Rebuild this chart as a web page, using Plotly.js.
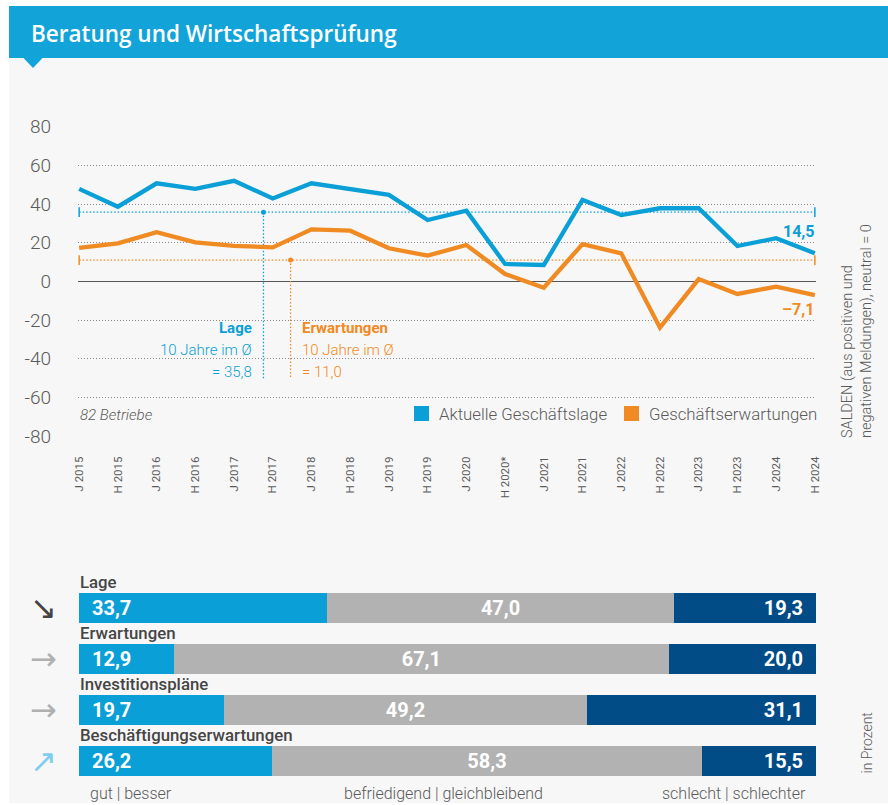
<!DOCTYPE html>
<html><head><meta charset="utf-8">
<script src="https://cdn.plot.ly/plotly-3.0.1.min.js"></script>
<style>html,body{margin:0;padding:0;background:#fff;}#chart{width:888px;height:805px;}</style>
</head><body><div id="chart"></div>
<script>
// ---- data ----
const periods = ['J 2015','H 2015','J 2016','H 2016','J 2017','H 2017','J 2018','H 2018','J 2019','H 2019','J 2020','H 2020*','J 2021','H 2021','J 2022','H 2022','J 2023','H 2023','J 2024','H 2024'];
const lage = [47.8,38.6,50.7,47.8,52.0,42.9,50.7,47.6,44.7,31.7,36.5,9.0,8.5,42.1,34.3,37.8,37.8,18.3,22.3,14.5];
const erwartungen = [17.3,19.7,25.4,20.2,18.4,17.6,26.9,26.2,17.1,13.3,18.8,3.8,-3.3,19.3,14.5,-23.9,1.2,-6.5,-2.7,-7.1];
const avgLage = 35.8;
const avgErw = 11.0;
const seriesNames = ['Aktuelle Geschäftslage','Geschäftserwartungen'];
const yTicks = [80,60,40,20,0,-20,-40,-60,-80];

const barCategories = ['Lage','Erwartungen','Investitionspläne','Beschäftigungserwartungen'];
const gutBesser = [33.7,12.9,19.7,26.2];
const befriedigend = [47.0,67.1,49.2,58.3];
const schlecht = [19.3,20.0,31.1,15.5];
const trendArrows = ['↘','→','→','↗'];
const barScale = ['gut | besser','befriedigend | gleichbleibend','schlecht | schlechter'];

// ---- helpers ----
const W = 888, H = 805;
const px = x => x / W;
const py = y => 1 - y / H;
const fmt = v => v.toFixed(1).replace('.', ',').replace('-', '–');

const BLUE = '#0a9fd6', ORANGE = '#f08a22', DARK = '#014b86', GREY = '#b2b2b2', TXT = '#5a5a5a';
const FONT = 'Roboto, "Open Sans", sans-serif';
const idx = periods.map((_, i) => i);
const last = periods.length - 1;

const traces = [];
// average lines
traces.push({x:[0,last], y:[avgLage,avgLage], mode:'lines+markers', line:{color:BLUE,width:1.4,dash:'1.5px,2px'},
  marker:{symbol:'line-ns',size:7,line:{color:BLUE,width:1.5}}, hoverinfo:'skip', showlegend:false, cliponaxis:false});
traces.push({x:[0,last], y:[avgErw,avgErw], mode:'lines+markers', line:{color:ORANGE,width:1.4,dash:'1.5px,2px'},
  marker:{symbol:'line-ns',size:7,line:{color:ORANGE,width:1.5}}, hoverinfo:'skip', showlegend:false, cliponaxis:false});
// callout connectors
traces.push({x:[4.76,4.76], y:[avgLage,-50.5], mode:'lines', line:{color:BLUE,width:1.3,dash:'1.5px,2px'}, hoverinfo:'skip', showlegend:false});
traces.push({x:[4.76], y:[avgLage], mode:'markers', marker:{color:BLUE,size:5}, hoverinfo:'skip', showlegend:false});
traces.push({x:[5.46,5.46], y:[avgErw,-50.5], mode:'lines', line:{color:ORANGE,width:1.3,dash:'1.5px,2px'}, hoverinfo:'skip', showlegend:false});
traces.push({x:[5.46], y:[avgErw], mode:'markers', marker:{color:ORANGE,size:5}, hoverinfo:'skip', showlegend:false});
// main lines
traces.push({x:idx, y:lage, name:seriesNames[0], mode:'lines', line:{color:BLUE,width:4.3}, showlegend:false, cliponaxis:false});
traces.push({x:idx, y:erwartungen, name:seriesNames[1], mode:'lines', line:{color:ORANGE,width:4.3}, showlegend:false, cliponaxis:false});

// stacked bars
const yb = barCategories.map((_, i) => i);
const barCommon = {type:'bar', orientation:'h', xaxis:'x2', yaxis:'y2', textposition:'inside',
  textfont:{family:FONT, size:20, color:'#fff', weight:700}, constraintext:'none', hoverinfo:'skip', showlegend:false};
traces.push(Object.assign({}, barCommon, {x:gutBesser, y:yb, marker:{color:BLUE}, insidetextanchor:'start', texttemplate:'  %{x:.1f}'}));
traces.push(Object.assign({}, barCommon, {x:befriedigend, y:yb, marker:{color:GREY}, insidetextanchor:'middle', texttemplate:'%{x:.1f}'}));
traces.push(Object.assign({}, barCommon, {x:schlecht, y:yb, marker:{color:DARK}, insidetextanchor:'end', texttemplate:'%{x:.1f}  '}));

const shapes = [
  {type:'rect', xref:'paper', yref:'paper', x0:px(9), x1:px(888), y0:py(803), y1:py(6), fillcolor:'#f7f7f7', line:{width:0}, layer:'below'},
  {type:'rect', xref:'paper', yref:'paper', x0:px(9), x1:px(888), y0:py(58), y1:py(6), fillcolor:'#12a3d8', line:{width:0}, layer:'below'},
  {type:'path', xref:'paper', yref:'paper', path:`M ${px(23)} ${py(57.5)} L ${px(43)} ${py(57.5)} L ${px(33)} ${py(68)} Z`, fillcolor:'#12a3d8', line:{width:0}, layer:'below'},
  // legend squares
  {type:'rect', xref:'paper', yref:'paper', x0:px(414), x1:px(429), y0:py(421), y1:py(406), fillcolor:BLUE, line:{width:0}},
  {type:'rect', xref:'paper', yref:'paper', x0:px(624), x1:px(639), y0:py(421), y1:py(406), fillcolor:ORANGE, line:{width:0}}
];

const ann = [];
const A = (o) => ann.push(Object.assign({xref:'paper', yref:'paper', showarrow:false, font:{family:FONT, size:15, color:TXT}}, o));
A({x:px(29), y:py(33), xanchor:'left', yanchor:'middle', text:'Beratung und Wirtschaftsprüfung', font:{family:'"Open Sans", sans-serif', size:22.5, color:'#fff', weight:600}});
// callout texts
A({x:px(254), y:py(328), xanchor:'right', yanchor:'middle', text:'<b>Lage</b>', font:{family:FONT, size:15, color:BLUE}});
A({x:px(254), y:py(350), xanchor:'right', yanchor:'middle', text:'10 Jahre im Ø', font:{family:FONT, size:15, color:BLUE, weight:300}});
A({x:px(254), y:py(372), xanchor:'right', yanchor:'middle', text:'= ' + fmt(avgLage), font:{family:FONT, size:15, color:BLUE, weight:300}});
A({x:px(300), y:py(328), xanchor:'left', yanchor:'middle', text:'<b>Erwartungen</b>', font:{family:FONT, size:15, color:ORANGE}});
A({x:px(300), y:py(350), xanchor:'left', yanchor:'middle', text:'10 Jahre im Ø', font:{family:FONT, size:15, color:ORANGE, weight:300}});
A({x:px(300), y:py(372), xanchor:'left', yanchor:'middle', text:'= ' + fmt(avgErw), font:{family:FONT, size:15, color:ORANGE, weight:300}});
// end values
A({x:px(816), y:py(232), xanchor:'right', yanchor:'middle', text:'<b>' + fmt(lage[last]) + '</b>', font:{family:FONT, size:16, color:BLUE}});
A({x:px(816), y:py(309), xanchor:'right', yanchor:'middle', text:'<b>' + fmt(erwartungen[last]) + '</b>', font:{family:FONT, size:16, color:ORANGE}});
// legend + note
A({x:px(78), y:py(415), xanchor:'left', yanchor:'middle', text:'<i>82 Betriebe</i>', font:{family:FONT, size:15, color:TXT, weight:300}});
A({x:px(437), y:py(414), xanchor:'left', yanchor:'middle', text:seriesNames[0], font:{family:FONT, size:16.8, color:TXT, weight:300}});
A({x:px(647), y:py(414), xanchor:'left', yanchor:'middle', text:seriesNames[1], font:{family:FONT, size:16.8, color:TXT, weight:300}});
// right side labels
A({x:px(857), y:py(440), xanchor:'center', yanchor:'bottom', textangle:-90, align:'left',
  text:'SALDEN (aus positiven und<br>negativen Meldungen), neutral = 0', font:{family:FONT, size:14.5, color:TXT, weight:300}});
A({x:px(866), y:py(776), xanchor:'center', yanchor:'bottom', textangle:-90, text:'in Prozent', font:{family:FONT, size:14, color:TXT, weight:300}});
// bar category labels + arrows
const arrowColors = ['#444','#b0b0b0','#b0b0b0','#7fcdef'];
barCategories.forEach((c, i) => {
  A({x:px(78), y:py(582 + 51*i), xanchor:'left', yanchor:'middle', text:c, font:{family:FONT, size:16.8, color:'#454545', weight:500}});
  A({x:px(43), y:py(608 + 51*i), xanchor:'center', yanchor:'middle', text:trendArrows[i], font:{family:'"DejaVu Sans", sans-serif', size:32, color:arrowColors[i]}});
});
A({x:px(88), y:py(793), xanchor:'left', yanchor:'middle', text:barScale[0], font:{family:FONT, size:16, color:TXT, weight:300}});
A({x:px(443), y:py(793), xanchor:'center', yanchor:'middle', text:barScale[1], font:{family:FONT, size:16, color:TXT, weight:300}});
A({x:px(808), y:py(793), xanchor:'right', yanchor:'middle', text:barScale[2], font:{family:FONT, size:16, color:TXT, weight:300}});

const layout = {
  width:W, height:H, margin:{l:0,r:0,t:0,b:0}, paper_bgcolor:'#ffffff', plot_bgcolor:'rgba(0,0,0,0)',
  separators:',.', showlegend:false, font:{family:FONT, color:TXT},
  xaxis:{domain:[px(78), px(816)], range:[-0.03, last+0.03], tickmode:'array', tickvals:idx, ticktext:periods,
    tickangle:-90, tickfont:{family:FONT, size:11.5, color:TXT}, ticklabelstandoff:17, showgrid:false, zeroline:false,
    showline:false, ticks:'', fixedrange:true},
  yaxis:{domain:[py(436.2), py(126.6)], range:[-80,80], tickmode:'array', tickvals:yTicks, ticktext:yTicks.map(String),
    tickfont:{family:FONT, size:19, color:TXT, weight:300}, ticklabelstandoff:26, showgrid:true, gridcolor:'#8a8a8a',
    griddash:'1px,2px', gridwidth:1, zeroline:true, zerolinecolor:'#555', zerolinewidth:1.3, showline:false, ticks:'', fixedrange:true},
  xaxis2:{domain:[px(79), px(816)], range:[0,100], anchor:'y2', showgrid:false, zeroline:false, showticklabels:false, showline:false, fixedrange:true},
  yaxis2:{domain:[py(786.5), py(582.5)], range:[3.5,-0.5], anchor:'x2', showgrid:false, zeroline:false, showticklabels:false, showline:false, fixedrange:true},
  barmode:'stack', bargap:21/51,
  shapes:shapes, annotations:ann
};
Plotly.newPlot('chart', traces, layout, {staticPlot:true, displayModeBar:false});
</script></body></html>
